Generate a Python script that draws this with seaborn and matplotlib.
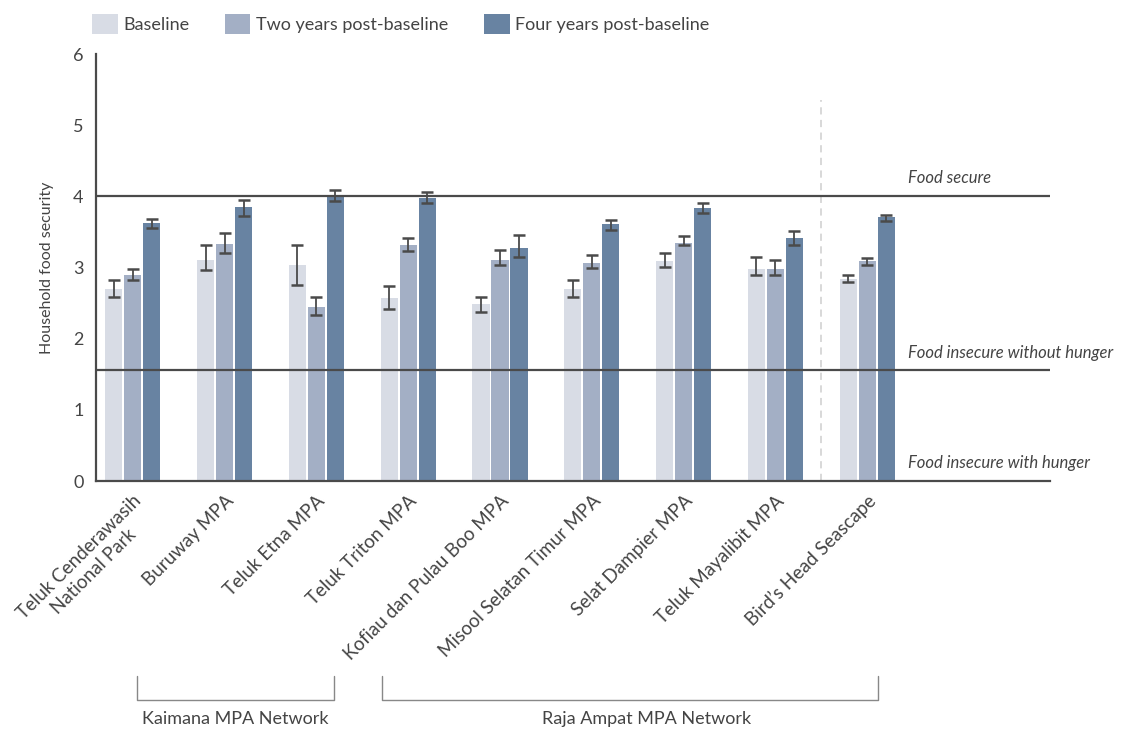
import numpy as np
import pandas as pd
import matplotlib
matplotlib.use("Agg")
import matplotlib.pyplot as plt
import matplotlib.transforms as mtransforms
from matplotlib.patches import Patch
import seaborn as sns

sites = ["Teluk Cenderawasih\nNational Park", "Buruway MPA", "Teluk Etna MPA",
         "Teluk Triton MPA", "Kofiau dan Pulau Boo MPA", "Misool Selatan Timur MPA",
         "Selat Dampier MPA", "Teluk Mayalibit MPA", "Bird\u2019s Head Seascape"]
periods = ["Baseline", "Two years post-baseline", "Four years post-baseline"]

baseline = [2.70, 3.11, 3.04, 2.57, 2.49, 2.70, 3.09, 2.98, 2.84]
two_years = [2.90, 3.33, 2.45, 3.32, 3.11, 3.07, 3.35, 2.98, 3.09]
four_years = [3.62, 3.85, 4.01, 3.97, 3.28, 3.61, 3.84, 3.41, 3.71]

baseline_lo = [2.58, 2.96, 2.75, 2.41, 2.37, 2.59, 3.01, 2.90, 2.80]
baseline_hi = [2.82, 3.32, 3.32, 2.74, 2.59, 2.82, 3.21, 3.15, 2.90]
two_lo = [2.82, 3.20, 2.33, 3.23, 3.03, 3.00, 3.31, 2.90, 3.04]
two_hi = [2.98, 3.49, 2.59, 3.42, 3.25, 3.17, 3.44, 3.10, 3.14]
four_lo = [3.56, 3.73, 3.94, 3.91, 3.15, 3.53, 3.76, 3.31, 3.66]
four_hi = [3.68, 3.95, 4.09, 4.06, 3.46, 3.67, 3.91, 3.51, 3.74]

thresholds = [4.0, 1.56]
threshold_labels = ["Food secure", "Food insecure without hunger", "Food insecure with hunger"]
threshold_label_y = [4.26, 1.80, 0.25]
networks = ["Kaimana MPA Network", "Raja Ampat MPA Network"]

colors = ["#d8dce5", "#a3afc5", "#6883a2"]
dark = "#4a4a4a"

sns.set_theme(style="white")
plt.rcParams["font.family"] = ["Lato", "DejaVu Sans"]

df = pd.DataFrame({
    "site": sites * 3,
    "period": [p for p in periods for _ in sites],
    "value": baseline + two_years + four_years,
})

fig = plt.figure(figsize=(11.43, 7.31), dpi=100)
ax = fig.add_axes([96 / 1143, 1 - 481 / 731, (1050 - 96) / 1143, (481 - 54) / 731])

sns.barplot(data=df, x="site", y="value", hue="period", order=sites, hue_order=periods,
            palette=colors, width=0.62, gap=0.1, errorbar=None, ax=ax, legend=False,
            saturation=1, linewidth=0)

los = [baseline_lo, two_lo, four_lo]
his = [baseline_hi, two_hi, four_hi]
vals = [baseline, two_years, four_years]
for cont, v, lo, hi in zip(ax.containers, vals, los, his):
    xs = [b.get_x() + b.get_width() / 2 for b in cont]
    v = np.array(v)
    yerr = np.vstack([v - np.array(lo), np.array(hi) - v])
    ax.errorbar(xs, v, yerr=yerr, fmt="none", ecolor=dark, elinewidth=1.3,
                capsize=4.4, capthick=1.8, zorder=5)

ax.set_xlim(-0.40, 9.99)
ax.set_ylim(0, 6)
ax.set_yticks(range(0, 7))
for t in thresholds:
    ax.axhline(t, color=dark, lw=1.6, zorder=1)
ax.plot([7.5, 7.5], [0, 5.36], color="#d6d6d6", lw=1.3, ls=(0, (4, 3)), zorder=0)

for lbl, y in zip(threshold_labels, threshold_label_y):
    ax.text(8.44, y, lbl, fontsize=12, style="italic", color="#444444",
            va="center", ha="left", clip_on=False)

sns.despine(ax=ax, top=True, right=True)
for s in ["left", "bottom"]:
    ax.spines[s].set_color(dark)
    ax.spines[s].set_linewidth(1.6)
ax.tick_params(axis="both", which="both", direction="out", length=5, width=1.6,
               color=dark, labelcolor="#444444")
ax.tick_params(axis="y", labelsize=13, pad=4)
ax.tick_params(axis="x", labelsize=13.5, pad=3)
ax.set_xlabel("")
ax.set_ylabel("Household food security", fontsize=11.5, color="#444444", labelpad=14)
plt.setp(ax.get_xticklabels(), rotation=45, ha="right", rotation_mode="anchor",
         multialignment="center")

# network brackets
tr = mtransforms.blended_transform_factory(ax.transData, fig.transFigure)
brackets = [(0.05, 2.19, 1.12), (2.72, 8.12, 5.60)]
y_top, y_bot, y_txt = 1 - 676 / 731, 1 - 700 / 731, 1 - 719 / 731
for (x0, x1, xt), name in zip(brackets, networks):
    ax.plot([x0, x0, x1, x1], [y_top, y_bot, y_bot, y_top], transform=tr,
            color="#888888", lw=1.0, clip_on=False)
    ax.text(xt, y_txt, name, transform=tr, ha="center", va="center",
            fontsize=13, color="#444444")

handles = [Patch(facecolor=c, edgecolor="none") for c in colors]
fig.legend(handles, periods, loc="center left", bbox_to_anchor=(76 / 1143, 1 - 24 / 731),
           ncol=3, frameon=False, fontsize=13, handlelength=1.4, handleheight=1.3,
           handletextpad=0.3, columnspacing=2.0, labelcolor="#444444")

fig.savefig("out.png", dpi=100)
